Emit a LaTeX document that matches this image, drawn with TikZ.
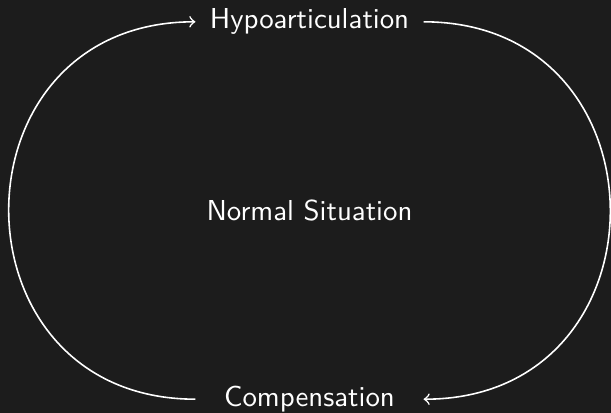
\documentclass[tikz,border=0pt]{standalone}
\usepackage{tikz}
\usetikzlibrary{positioning}
\usetikzlibrary{arrows}
\definecolor{bgdark}{RGB}{28,28,28}
\tikzset{
stage/.style={minimum width=78.7pt, inner sep=0pt, text=white, font=\sffamily},
loopline/.style={->, white, line width=0.55pt, looseness=1.69}
}
\begin{document}
\begin{tikzpicture}[x=0.3467pt,y=0.3467pt,yscale=-1]
%Shape: Background
\fill [bgdark] (0,0) rectangle (611,413);
\useasboundingbox (0,0) rectangle (611,413);

% Text Node
\node [stage] (hypo) at (309.5,21.8) {Hypoarticulation};
% Text Node
\node [stage] (normal) at (309.5,210.5) {Normal Situation};
% Text Node
\node [stage] (comp) at (309.5,399.2) {Compensation};

%Curved Lines
\draw [loopline] (comp.west) to [out=180,in=180] (hypo.west);
\draw [loopline] (hypo.east) to [out=0,in=0] (comp.east);
\end{tikzpicture}
\end{document}
